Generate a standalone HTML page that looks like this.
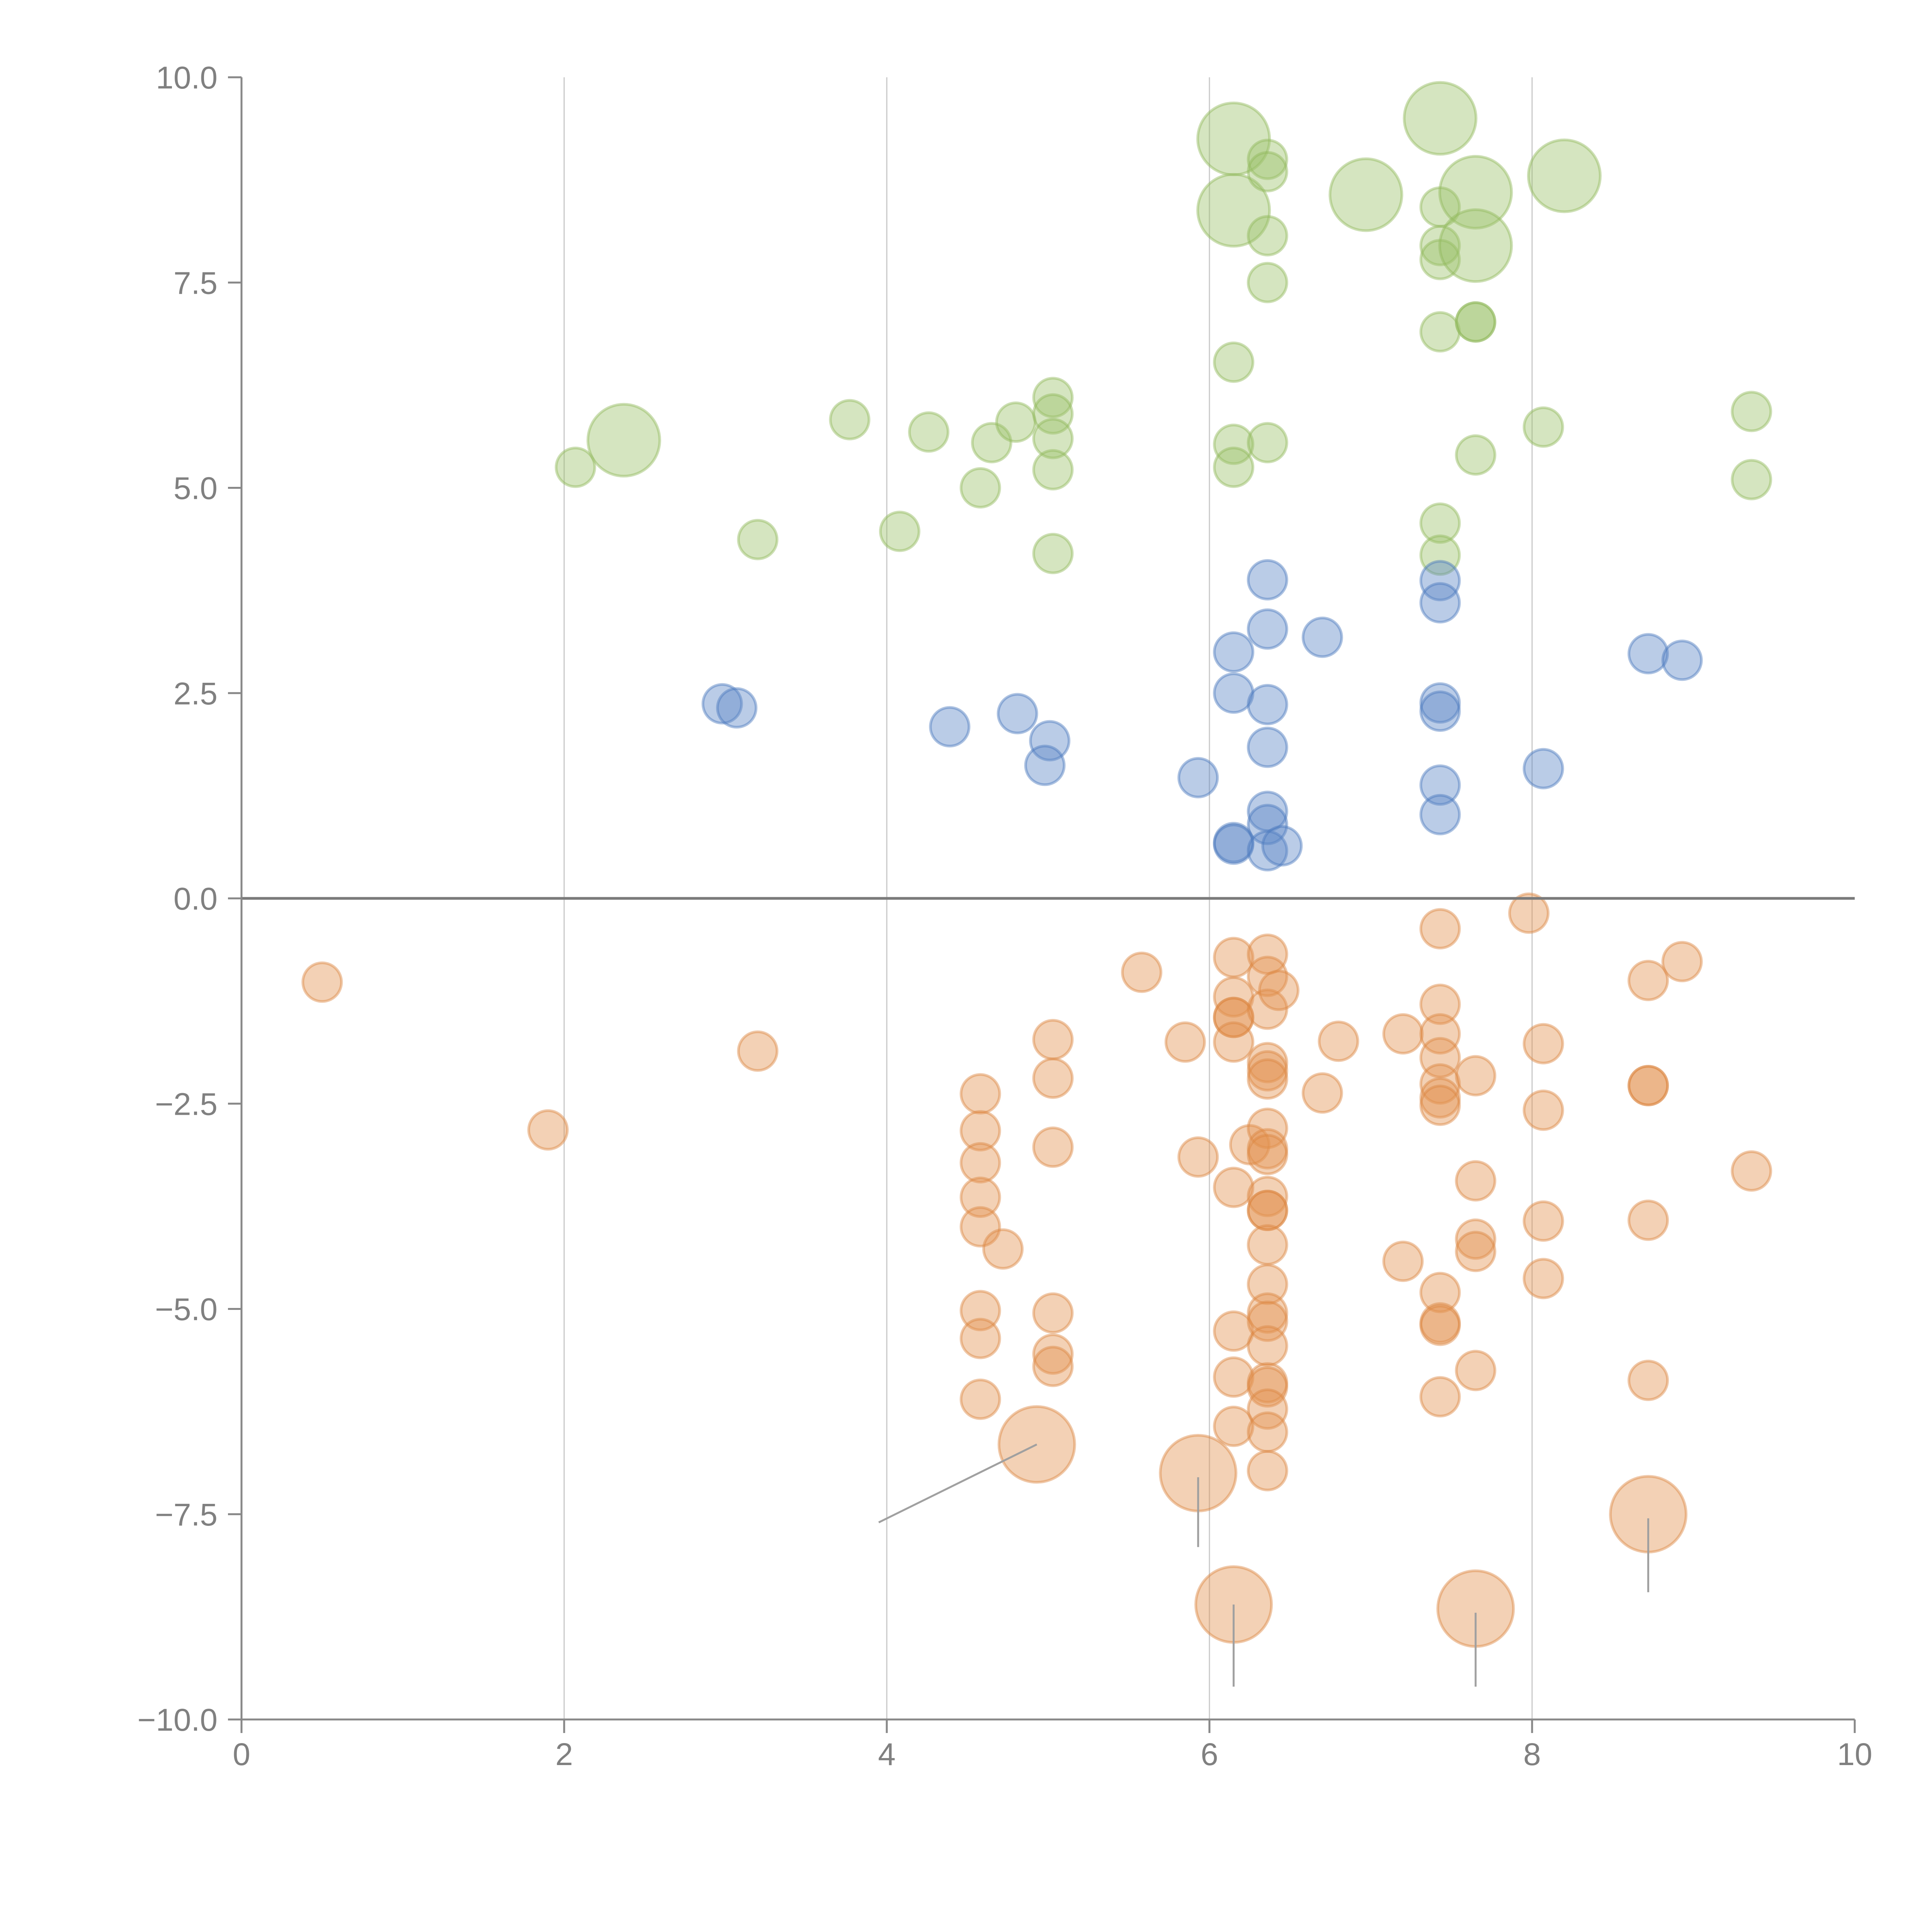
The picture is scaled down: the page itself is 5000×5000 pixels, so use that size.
<!DOCTYPE html>
<html><head><meta charset="utf-8"><style>
html,body{margin:0;padding:0;background:#fff;}
svg{display:block;}
text{font-family:"Liberation Sans",Arial,sans-serif;fill:#808080;}
</style></head><body>
<svg id="chart" width="5000" height="5000" viewBox="0 0 5000 5000" xmlns="http://www.w3.org/2000/svg">
<g id="grid"></g>
<g id="marks"></g>
<g id="axes"></g>
</svg>
<script>
const xTicks=[0,2,4,6,8,10];
const yTicks=[-10,-7.5,-5,-2.5,0,2.5,5,7.5,10];
const yTickLabels=["\u221210.0","\u22127.5","\u22125.0","\u22122.5","0.0","2.5","5.0","7.5","10.0"];
const greenX=[2.07,2.37,3.2,3.77,4.08,4.26,4.65,4.58,4.8,5.03,5.03,5.03,5.03,5.03,6.15,6.15,6.36,6.36,6.36,6.36,6.15,6.15,6.15,6.36,6.97,7.43,7.43,7.43,7.43,7.43,7.65,7.65,7.65,7.65,8.2,7.65,8.07,9.36,9.36,7.43,7.43];
const greenY=[5.25,5.58,4.37,5.83,4.47,5.68,5.55,5.0,5.8,6.1,5.9,5.6,5.22,4.2,9.25,8.38,9.0,8.85,8.07,7.5,6.53,5.53,5.25,5.55,8.57,9.5,8.42,7.95,7.78,6.9,8.6,7.95,7.02,7.02,8.8,5.4,5.74,5.93,5.1,4.57,4.18];
const greenBig=[0,1,0,0,0,0,0,0,0,0,0,0,0,0,1,1,0,0,0,0,0,0,0,0,1,1,0,0,0,0,1,1,0,0,1,0,0,0,0,0,0];
const blueX=[2.98,3.07,4.39,4.81,5.01,4.98,5.93,6.15,6.15,6.15,6.15,6.36,6.36,6.36,6.36,6.36,6.36,6.36,6.45,6.7,7.43,7.43,7.43,7.43,7.43,7.43,8.07,8.72,8.93];
const blueY=[2.37,2.32,2.09,2.25,1.92,1.62,1.47,3.0,2.5,0.68,0.66,3.88,3.28,2.36,1.84,1.06,0.9,0.58,0.64,3.18,3.87,3.6,2.38,2.28,1.38,1.02,1.58,2.98,2.9];
const orangeX=[0.5,1.9,3.2,4.58,4.58,4.58,4.58,4.58,4.72,4.58,4.58,4.58,5.03,5.03,5.03,5.03,5.03,5.03,5.58,5.85,5.93,6.15,6.15,6.15,6.15,6.15,6.15,6.15,6.15,6.15,6.25,6.36,6.36,6.36,6.43,6.36,6.36,6.36,6.36,6.36,6.36,6.36,6.36,6.36,6.36,6.36,6.36,6.36,6.36,6.36,6.36,6.36,6.36,6.36,6.7,6.8,7.2,7.2,7.43,7.43,7.43,7.43,7.43,7.43,7.43,7.43,7.43,7.43,7.43,7.65,7.65,7.65,7.65,7.65,7.98,8.07,8.07,8.07,8.07,8.72,8.72,8.72,8.72,8.72,8.93,9.36,4.93,5.93,6.15,7.65,8.72];
const orangeY=[-1.02,-2.82,-1.86,-2.38,-2.83,-3.22,-3.64,-4.0,-4.27,-5.02,-5.36,-6.1,-1.72,-2.19,-3.03,-5.05,-5.55,-5.7,-0.9,-1.75,-3.15,-0.72,-1.2,-1.45,-1.45,-1.75,-3.52,-5.27,-5.83,-6.43,-3.0,-0.68,-0.95,-1.35,-1.12,-2.0,-2.1,-2.2,-2.8,-3.05,-3.12,-3.63,-3.8,-3.8,-4.22,-4.7,-5.05,-5.15,-5.45,-5.9,-5.95,-6.22,-6.5,-6.97,-2.37,-1.74,-1.65,-4.42,-0.37,-1.29,-1.65,-1.94,-2.26,-2.43,-2.52,-4.8,-5.17,-5.2,-6.07,-2.16,-3.44,-4.15,-4.3,-5.75,-0.18,-1.77,-2.58,-3.93,-4.63,-1.0,-2.28,-2.28,-3.92,-5.87,-0.77,-3.32,-6.65,-7.0,-8.6,-8.65,-7.5];
const orangeBigCount=5;
const leaderFromX=[4.93,5.93,6.15,7.65,8.72];
const leaderFromY=[-6.65,-7.05,-8.6,-8.7,-7.55];
const leaderToX=[3.95,5.93,6.15,7.65,8.72];
const leaderToY=[-7.6,-7.9,-9.6,-9.6,-8.45];

const X0=625,X1=4800,Y0=4450,Y1=200;
const sx=v=>X0+(v-0)/(10-0)*(X1-X0);
const sy=v=>Y0-(v+10)/20*(Y0-Y1);
const NS="http://www.w3.org/2000/svg";
function mk(tag,attrs,parent){const e=document.createElementNS(NS,tag);for(const k in attrs)e.setAttribute(k,attrs[k]);parent.appendChild(e);return e;}
const grid=document.getElementById('grid'),marks=document.getElementById('marks'),axes=document.getElementById('axes');

[2,4,6,8].forEach(v=>{
  const l=mk('line',{x1:sx(v),x2:sx(v),y1:Y1,y2:Y0,stroke:'#c8c8c8','stroke-width':3},grid);
  
  
});

function bubble(x,y,r,fill,stroke,name){
  const c=mk('circle',{cx:sx(x),cy:sy(y),r:r,fill:fill,'fill-opacity':0.42,stroke:stroke,'stroke-opacity':0.45,'stroke-width':7},marks);
  
  
}
greenX.forEach((x,i)=>bubble(x,greenY[i],greenBig[i]?93:50,'#9cc06a','#90b95a','bubble-green'));
blueX.forEach((x,i)=>bubble(x,blueY[i],50,'#5a86c5','#4a78bd','bubble-blue'));
orangeX.forEach((x,i)=>bubble(x,orangeY[i],i>=orangeX.length-orangeBigCount?98:50,'#e2924f','#dc8440','bubble-orange'));

leaderFromX.forEach((x,i)=>{
  const l=mk('line',{x1:sx(x),y1:sy(leaderFromY[i]),x2:sx(leaderToX[i]),y2:sy(leaderToY[i]),stroke:'#a0a0a0','stroke-width':5},marks);
  
  
});

const zl=mk('line',{x1:X0,x2:X1,y1:sy(0),y2:sy(0),stroke:'#7a7a7a','stroke-width':7},axes);


const ya=mk('line',{x1:X0,x2:X0,y1:Y1,y2:Y0,stroke:'#888','stroke-width':5},axes);


const xa=mk('line',{x1:X0,x2:X1,y1:Y0,y2:Y0,stroke:'#888','stroke-width':5},axes);


yTicks.forEach((v,i)=>{
  const t=mk('line',{x1:X0-35,x2:X0,y1:sy(v),y2:sy(v),stroke:'#888','stroke-width':5},axes);
  
  
  const tx=mk('text',{x:X0-62,y:sy(v)+29,'text-anchor':'end','font-size':82},axes);
  tx.textContent=yTickLabels[i];
  
  
});
xTicks.forEach(v=>{
  const t=mk('line',{x1:sx(v),x2:sx(v),y1:Y0,y2:Y0+35,stroke:'#888','stroke-width':5},axes);
  
  
  const tx=mk('text',{x:sx(v),y:Y0+118,'text-anchor':'middle','font-size':82},axes);
  tx.textContent=String(v);
  
  
});
</script>
</body></html>
